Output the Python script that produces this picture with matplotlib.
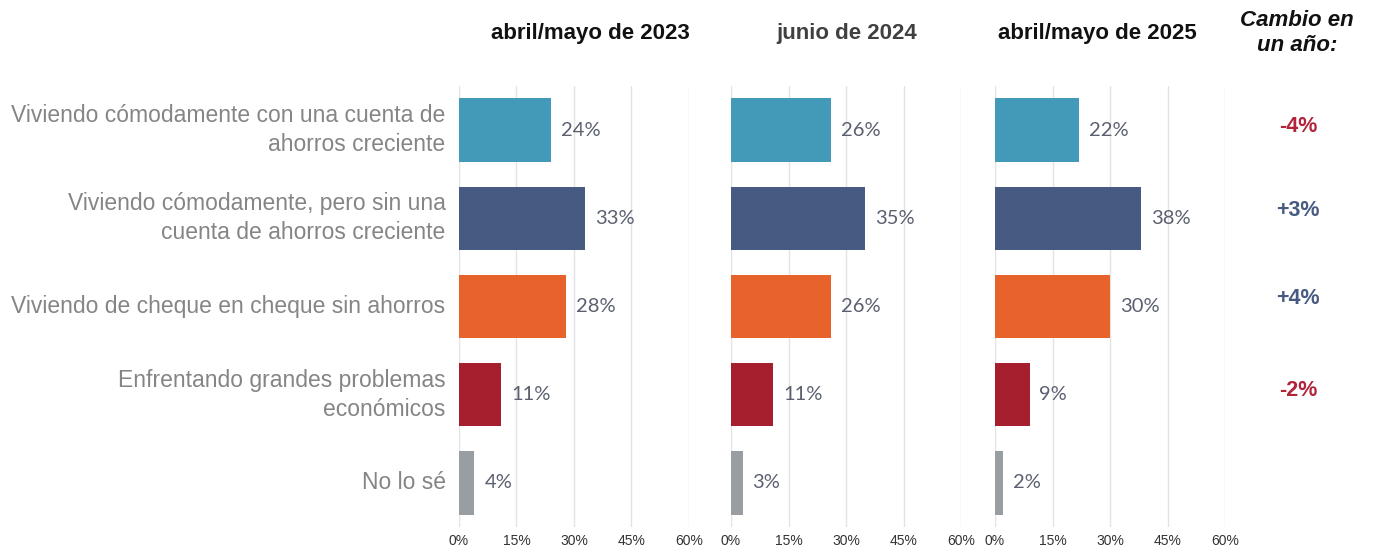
import matplotlib
matplotlib.use("Agg")
import matplotlib.pyplot as plt

categories = [
    "Viviendo cómodamente con una cuenta de\nahorros creciente",
    "Viviendo cómodamente, pero sin una\ncuenta de ahorros creciente",
    "Viviendo de cheque en cheque sin ahorros",
    "Enfrentando grandes problemas\neconómicos",
    "No lo sé",
]
periods = ["abril/mayo de 2023", "junio de 2024", "abril/mayo de 2025"]
values_2023 = [24, 33, 28, 11, 4]
values_2024 = [26, 35, 26, 11, 3]
values_2025 = [22, 38, 30, 9, 2]
changes = ["-4%", "+3%", "+4%", "-2%"]
change_title = "Cambio en\nun año:"
ticks = [0, 15, 30, 45, 60]
tick_labels = ["0%", "15%", "30%", "45%", "60%"]

bar_colors = ["#4399b8", "#465a82", "#e8632b", "#a51f2f", "#999ea3"]
change_colors = ["#b3233a", "#465a82", "#465a82", "#b3233a"]
title_colors = ["#111111", "#404040", "#111111"]

fig = plt.figure(figsize=(13.75, 5.52), dpi=100)
W, H = 1375, 552
lefts = [459, 731, 995]
width_px = 230
top_px, bot_px = 86, 527

all_vals = [values_2023, values_2024, values_2025]
title_x = [590, 847, 1097]
ypos = list(range(len(categories)))

for i, (vals, left) in enumerate(zip(all_vals, lefts)):
    ax = fig.add_axes([left / W, 1 - bot_px / H, width_px / W, (bot_px - top_px) / H])
    ax.barh(ypos, vals, height=0.72, color=bar_colors, zorder=3)
    ax.set_xlim(0, 60)
    ax.set_ylim(len(categories) - 0.5, -0.5)
    ax.set_xticks(ticks)
    ax.set_xticklabels(tick_labels, fontsize=10, color="#333333", family="Liberation Sans")
    ax.tick_params(axis="x", length=0, pad=5)
    ax.set_yticks([])
    ax.grid(axis="x", color="#e3e3e3", linewidth=1, zorder=0)
    for s in ax.spines.values():
        s.set_visible(False)
    for y, v in zip(ypos, vals):
        ax.text(v + 2.6, y, f"{v}%", va="center", ha="left", fontsize=14.5,
                color="#5b6070", family="Lato", zorder=4)
    if i == 0:
        for y, c in zip(ypos, categories):
            ax.text(-3.5, y, c, ha="right", va="center", fontsize=16.5,
                    color="#858585", family="Liberation Sans", linespacing=1.35)
    fig.text(title_x[i] / W, 1 - 33 / H, periods[i], ha="center", va="center",
             fontsize=16, fontweight="bold", color=title_colors[i], family="Liberation Sans")

# change column
fig.text(1297 / W, 1 - 33 / H, change_title, ha="center", va="center", fontsize=16,
         fontweight="bold", fontstyle="italic", color="#111111", family="Liberation Sans",
         linespacing=1.2)
change_y = [126, 211, 298, 390]
for cy, ch, col in zip(change_y, changes, change_colors):
    fig.text(1298 / W, 1 - cy / H, ch, ha="center", va="center", fontsize=15.5,
             fontweight="bold", color=col, family="Liberation Sans")

fig.savefig("out.png", dpi=100, facecolor="white")
